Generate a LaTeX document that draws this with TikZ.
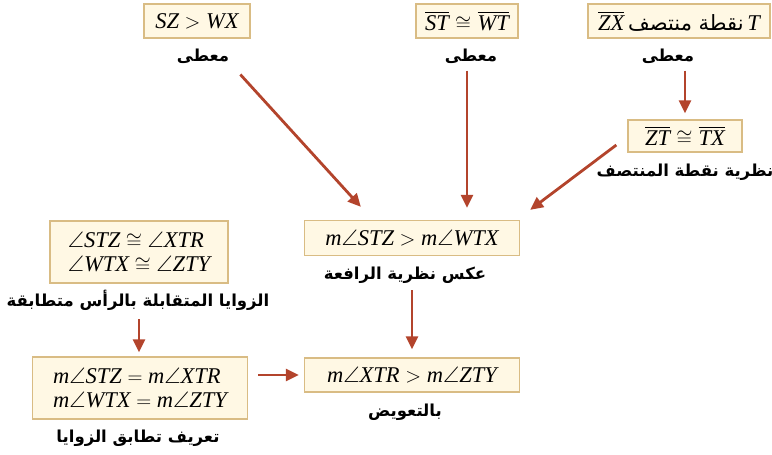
\documentclass[tikz,border=0pt]{standalone}
\usepackage{amsmath, amssymb}
\usepackage{fontspec}
\usepackage{xcolor}
\usepackage{tikz}
\usetikzlibrary{arrows.meta, positioning}
\setmainfont{Liberation Serif}
\newfontfamily\arabicfont[Script=Arabic]{DejaVu Sans}
\TeXXeTstate=1
\newcommand{\seg}[1]{$\overline{\mbox{#1}}$}
\definecolor{boxfill}{HTML}{FFF8E4}
\definecolor{boxline}{HTML}{D9BC84}
\definecolor{arrowred}{HTML}{B3442C}
\tikzset{
    stmt/.style={draw=boxline, fill=boxfill, line width=1.3pt, inner sep=4pt,
        minimum height=34pt, font=\fontsize{22.5}{24}\selectfont\itshape},
    reason/.style={font=\arabicfont\bfseries\fontsize{16.5}{19}\selectfont, inner sep=1pt},
    arr/.style={-{Triangle[length=13pt,width=12pt]}, draw=arrowred, line width=2.8pt}
}
\begin{document}
\begin{tikzpicture}[x=1pt, y=-1pt]
    \useasboundingbox (0,0) rectangle (772,455);
    % Các mệnh đề đã cho
    \node[stmt, minimum width=106pt] (given1) at (197,21) {SZ $>$ WX};
    \node[reason] (r1) at (203,56) {\beginR معطى\endR};
    \node[stmt, minimum width=102pt] (given2) at (467,21) {\seg{ST}\;$\cong$\;\seg{WT}};
    \node[reason] (r2) at (471,56) {\beginR معطى\endR};
    \node[stmt, minimum width=182pt] (given3) at (679,21)
        {\seg{ZX}\,{\arabicfont\upshape\fontsize{21}{24}\selectfont\beginR نقطة منتصف\endR}\,T};
    \node[reason] (r3) at (668,56) {\beginR معطى\endR};
    
    % Trung điểm
    \node[stmt, minimum width=114pt, minimum height=32pt] (mid) at (685,136) {\seg{ZT}\;$\cong$\;\seg{TX}};
    \node[reason] (r4) at (685,172) {\beginR نظرية نقطة المنتصف\endR};
    
    % Kết luận giữa
    \node[stmt, minimum width=215pt, minimum height=35pt] (hinge) at (412,238) {m$\angle$STZ $>$ m$\angle$WTX};
    \node[reason] (r5) at (405,275) {\beginR عكس نظرية الرافعة\endR};
    \node[stmt, minimum width=215pt] (final) at (412,375) {m$\angle$XTR $>$ m$\angle$ZTY};
    \node[reason] (r6) at (405,412) {\beginR بالتعويض\endR};
    
    % Góc đối đỉnh
    \node[stmt, minimum width=178pt, minimum height=62pt, align=left] (vert) at (139,252)
        {$\angle$STZ $\cong$ $\angle$XTR\\$\angle$WTX $\cong$ $\angle$ZTY};
    \node[reason] (r7) at (138,300) {\beginR الزوايا المتقابلة بالرأس متطابقة\endR};
    \node[stmt, minimum width=215pt, minimum height=62pt, align=left] (meas) at (140,388)
        {m$\angle$STZ $=$ m$\angle$XTR\\m$\angle$WTX $=$ m$\angle$ZTY};
    \node[reason] (r8) at (138,438) {\beginR تعريف تطابق الزوايا\endR};
    
    % Mũi tên
    \draw[arr] ([xshift=10pt,yshift=-10pt]r1.south east) -- ([xshift=57pt,yshift=13pt]hinge.north west);
    \draw[arr, shorten <=6pt, shorten >=12pt] (given2.south |- r2.south) -- (given2.south |- hinge.north);
    \draw[arr, shorten <=6pt, shorten >=6pt] (mid.north |- r3.south) -- (mid.north);
    \draw[arr] ([xshift=-11pt,yshift=-9pt]mid.west) -- ([xshift=10pt,yshift=10pt]hinge.north east);
    \draw[arr, shorten <=6pt, shorten >=8pt] (r5.south -| final.north) -- (final.north);
    \draw[arr, shorten <=8pt, shorten >=4pt] (vert.south |- r7.south) -- (vert.south |- meas.north);
    \draw[arr, shorten <=10pt, shorten >=5pt] (meas.east |- final) -- (final.west);
\end{tikzpicture}
\end{document}
